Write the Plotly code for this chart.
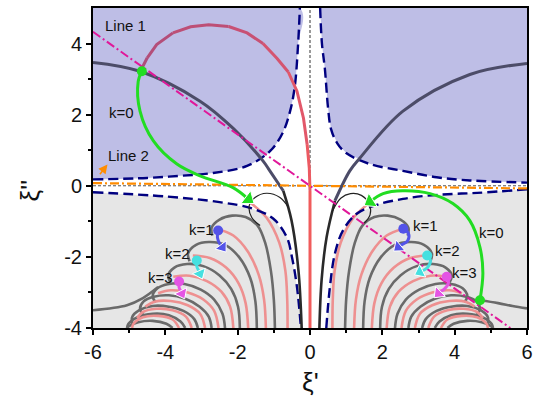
import plotly.graph_objects as go

# ---------------- data ----------------
UL_DASH = [(-6, 0.18), (-4.5, 0.22), (-3.6, 0.28), (-2.68, 0.36), (-1.74, 0.56), (-1.1, 0.98),
           (-0.75, 1.5), (-0.55, 2.1), (-0.42, 2.8), (-0.33, 3.97), (-0.28, 5)]
UR_DASH = [(0.28, 5), (0.33, 4.0), (0.41, 3.3), (0.5, 2.18), (0.58, 1.6), (0.75, 1.2), (1.0, 0.92),
           (1.66, 0.61), (2.57, 0.42), (3.5, 0.24), (4.42, 0.15), (6, 0.09)]
LL_DASH = [(-6, -0.18), (-4, -0.3), (-2.5, -0.46), (-1.6, -0.64), (-1.02, -0.92), (-0.64, -1.45),
           (-0.5, -2.0), (-0.36, -2.85), (-0.25, -4)]
LR_DASH = [(0.45, -4), (0.55, -2.85), (0.69, -1.9), (0.91, -1.26), (1.3, -0.78), (1.9, -0.52),
           (2.57, -0.37), (3.23, -0.28), (3.95, -0.23), (4.62, -0.2), (6, -0.1)]

LINE1 = [(-6, 4.33), (5.54, -4)]
LINE2 = [(-6, 0.075), (6, -0.075)]

SLATE_L = [(-6, 3.47), (-4.7, 3.22), (-3.04, 2.38), (-2.13, 1.62), (-1.3, 0.7), (-1.11, 0.42), (-0.74, -0.14)]
DARK_L = [(-0.74, -0.14), (-0.51, -0.98), (-0.32, -2.38), (-0.23, -4)]
SLATE_R = [(6, 3.44), (4.42, 3.13), (2.57, 2.1), (1.38, 0.78), (1.1, 0.42), (0.69, -0.42)]
DARK_R = [(0.69, -0.42), (0.46, -1.44), (0.32, -2.66), (0.26, -4)]

LOOP_L = [(-0.6, -0.6), (-0.83, -0.33), (-1.2, -0.21), (-1.52, -0.33), (-1.68, -0.56), (-1.61, -0.89), (-1.38, -1.12)]
LOOP_R = [(0.6, -0.75), (0.85, -0.35), (1.12, -0.22), (1.42, -0.27), (1.64, -0.52), (1.66, -0.82), (1.5, -1.05)]

RED_LOOP = [(0, -4), (0, -2), (0, -0.14), (-0.02, 0.5), (-0.08, 1.17), (-0.18, 1.9), (-0.36, 2.66),
            (-0.6, 3.2), (-0.91, 3.58), (-1.3, 4.0), (-1.74, 4.3), (-2.25, 4.48), (-2.8, 4.53),
            (-3.3, 4.47), (-3.79, 4.3), (-4.24, 3.97), (-4.5, 3.6), (-4.62, 3.36), (-4.65, 3.22)]
RED_COLORS = ["#f05c5c", "#ec5a62", "#e2586a", "#d45470", "#c85174", "#bd4f76", "#b44e79", "#ae4e7b"]

GREEN_L = [(-4.65, 3.22), (-4.75, 2.94), (-4.7, 2.1), (-4.33, 1.26), (-3.68, 0.61), (-3.04, 0.28),
           (-2.13, -0.05), (-1.7, -0.38)]
GREEN_R = [(4.7, -3.22), (4.78, -2.46), (4.7, -1.73), (4.42, -0.98), (3.95, -0.5), (3.32, -0.22),
           (2.57, -0.14), (2.02, -0.22), (1.66, -0.45)]

# right fan (left fan is its mirror image)
PINK_ARCS = [
    [(0.62, -4), (0.63, -3.2), (0.68, -2.4), (0.85, -1.6), (1.2, -0.9), (1.72, -0.42)],
    [(1.22, -4), (1.27, -3.2), (1.42, -2.5), (1.72, -1.85), (2.12, -1.4), (2.58, -1.21)],
    [(1.71, -4), (1.78, -3.3), (1.97, -2.75), (2.32, -2.3), (2.77, -2.03), (3.24, -1.96)],
    [(2.12, -4), (2.21, -3.4), (2.45, -2.98), (2.85, -2.68), (3.33, -2.53), (3.78, -2.56)],
    [(2.53, -4), (2.65, -3.52), (2.95, -3.2), (3.38, -3.0), (3.85, -2.94), (4.2, -3.02)],
    [(2.9, -4), (3.04, -3.6), (3.38, -3.36), (3.85, -3.24), (4.3, -3.26), (4.55, -3.4)],
    [(3.27, -4), (3.43, -3.68), (3.8, -3.5), (4.25, -3.46), (4.62, -3.55), (4.78, -3.72)],
    [(3.62, -4), (3.8, -3.76), (4.2, -3.66), (4.62, -3.7), (4.88, -3.88), (4.92, -4)],
]
GRAY_ARCS = [
    [(0.97, -4), (1.0, -3.2), (1.08, -2.4), (1.24, -1.6), (1.45, -1.12), (1.78, -0.88), (2.15, -0.84),
     (2.5, -0.95), (2.72, -1.18), (2.7, -1.4)],
    [(1.47, -4), (1.51, -3.25), (1.65, -2.6), (1.95, -2.02), (2.35, -1.66), (2.8, -1.58), (3.15, -1.66),
     (3.37, -1.9), (3.33, -2.12)],
    [(1.94, -4), (1.99, -3.4), (2.18, -2.9), (2.5, -2.52), (2.95, -2.26), (3.4, -2.2), (3.75, -2.3),
     (3.92, -2.52), (3.86, -2.72)],
    [(2.35, -4), (2.42, -3.6), (2.65, -3.2), (3.02, -2.92), (3.47, -2.76), (3.9, -2.76), (4.22, -2.88),
     (4.35, -3.1), (4.27, -3.28)],
    [(2.72, -4), (2.8, -3.68), (3.05, -3.4), (3.45, -3.18), (3.9, -3.08), (4.32, -3.12), (4.6, -3.25),
     (4.7, -3.46), (4.62, -3.62)],
    [(3.1, -4), (3.2, -3.75), (3.5, -3.52), (3.9, -3.4), (4.35, -3.38), (4.72, -3.5), (4.92, -3.7),
     (4.9, -3.9)],
    [(3.45, -4), (3.58, -3.82), (3.9, -3.64), (4.35, -3.6), (4.78, -3.7), (5.02, -3.88), (5.06, -4)],
    [(3.8, -4), (3.97, -3.88), (4.35, -3.8), (4.75, -3.84), (5.02, -3.96), (5.05, -4)],
]
EDGE_R = [(4.7, -3.22), (5.2, -3.3), (5.6, -3.38), (6, -3.45)]
EDGE_L = [(-6, -3.5), (-5.06, -3.36), (-4.62, -3.16), (-4.2, -2.85)]

K_ARROWS = [  # (colour, path from dot to triangle)
    ("#5353e8", [(2.58, -1.21), (2.72, -1.33), (2.7, -1.55), (2.5, -1.68), (2.44, -1.73)]),
    ("#45e0e0", [(3.24, -1.96), (3.33, -2.1), (3.25, -2.3), (3.1, -2.4), (3.04, -2.43)]),
    ("#e455e4", [(3.78, -2.56), (3.83, -2.72), (3.72, -2.9), (3.6, -2.98), (3.55, -3.03)]),
    ("#5353e8", [(-2.54, -1.26), (-2.56, -1.45), (-2.5, -1.62), (-2.42, -1.73)]),
    ("#45e0e0", [(-3.13, -2.1), (-3.13, -2.27), (-3.07, -2.4), (-3.04, -2.47)]),
    ("#e455e4", [(-3.62, -2.69), (-3.62, -2.86), (-3.57, -2.97), (-3.54, -3.03)]),
]

LABELS = [("Line 1", -5.1, 4.52), ("Line 2", -5.03, 0.84), ("k=0", -5.2, 2.05), ("k=0", 5.03, -1.3),
          ("k=1", 3.18, -1.12), ("k=2", 3.79, -1.82), ("k=3", 4.28, -2.43),
          ("k=1", -3.01, -1.24), ("k=2", -3.65, -1.9), ("k=3", -4.12, -2.58)]

X_TICKS = [-6, -4, -2, 0, 2, 4, 6]
Y_TICKS = [-4, -2, 0, 2, 4]

# ---------------- figure ----------------
fig = go.Figure()

def xs(pts):
    return [p[0] for p in pts]

def ys(pts):
    return [p[1] for p in pts]

def mirror(pts):
    return [(-p[0], p[1]) for p in pts]

LAV = "#bebee6"
GRY = "#e6e6e6"
fig.add_trace(go.Scatter(x=xs(UL_DASH) + [-6], y=ys(UL_DASH) + [5], fill="toself", fillcolor=LAV,
                         mode="none", hoverinfo="skip", line_shape="spline"))
fig.add_trace(go.Scatter(x=xs(UR_DASH) + [6], y=ys(UR_DASH) + [5], fill="toself", fillcolor=LAV,
                         mode="none", hoverinfo="skip"))
fig.add_trace(go.Scatter(x=xs(LL_DASH) + [-6], y=ys(LL_DASH) + [-4], fill="toself", fillcolor=GRY,
                         mode="none", hoverinfo="skip"))
fig.add_trace(go.Scatter(x=xs(LR_DASH) + [6], y=ys(LR_DASH) + [-4], fill="toself", fillcolor=GRY,
                         mode="none", hoverinfo="skip"))

def line(pts, color, width, dash="solid", shape="spline"):
    fig.add_trace(go.Scatter(x=xs(pts), y=ys(pts), mode="lines",
                             line=dict(color=color, width=width, dash=dash, shape=shape,
                                       smoothing=1.0 if shape == "spline" else None),
                             hoverinfo="skip"))

# fans
PINK = "#ee9090"
FANGRAY = "#6a6a6a"
for side in (lambda p: p, mirror):
    for arc in GRAY_ARCS:
        line(side(arc), FANGRAY, 2.6)
    for arc in PINK_ARCS:
        line(side(arc), PINK, 2.6)
line(EDGE_R, FANGRAY, 2.6)
line(EDGE_L, FANGRAY, 2.6)

# axes helper lines
line([(0, -4), (0, 5)], "#333333", 1, dash="3px,2px", shape="linear")
line([(-6, 0), (6, 0)], "#555555", 1, dash="3px,2px", shape="linear")

# dashed boundaries
for d in (UL_DASH, UR_DASH, LL_DASH, LR_DASH):
    line(d, "#000080", 2.4, dash="10px,5px")

# slate / dark curves
line(SLATE_L, "#4c4c68", 3)
line(DARK_L, "#2a2a2a", 2.6)
line(SLATE_R, "#4c4c68", 3)
line(DARK_R, "#2a2a2a", 2.6)
line(LOOP_L, "#222222", 1.2)
line(LOOP_R, "#222222", 1.2)

# red loop, coloured in pieces (consecutive chunks share their end points)
n = len(RED_COLORS)
step = (len(RED_LOOP) - 1) / n
for i, col in enumerate(RED_COLORS):
    a = int(round(i * step))
    b = int(round((i + 1) * step))
    line(RED_LOOP[a:b + 1], col, 3, shape="linear")

# reference lines
line(LINE1, "#e0189a", 2, dash="9px,3px,2px,3px", shape="linear")
line(LINE2, "#ff8c00", 2.2, dash="9px,3px,2px,3px", shape="linear")

# green k=0 paths
for g in (GREEN_L, GREEN_R):
    line(g, "#22dd22", 3)
    fig.add_trace(go.Scatter(x=[g[0][0]], y=[g[0][1]], mode="markers",
                             marker=dict(color="#22dd22", size=10), hoverinfo="skip"))
    fig.add_trace(go.Scatter(x=xs(g[-2:]), y=ys(g[-2:]), mode="markers",
                             marker=dict(color="#22dd22", size=[0, 14], symbol="triangle-up",
                                         angleref="previous", opacity=[0, 1]), hoverinfo="skip"))

# k arrows
for col, path in K_ARROWS:
    line(path, col, 3)
    fig.add_trace(go.Scatter(x=[path[0][0]], y=[path[0][1]], mode="markers",
                             marker=dict(color=col, size=10), hoverinfo="skip"))
    fig.add_trace(go.Scatter(x=xs(path[-2:]), y=ys(path[-2:]), mode="markers",
                             marker=dict(color=col, size=[0, 12], symbol="triangle-up",
                                         angleref="previous", opacity=[0, 1]), hoverinfo="skip"))

FONT = "Liberation Sans, Arial, sans-serif"
for t, x, y in LABELS:
    fig.add_annotation(x=x, y=y, text=t, showarrow=False, font=dict(family=FONT, size=15, color="#111"))

# orange arrow for Line 2
fig.add_annotation(x=-5.6, y=0.6, ax=-5.84, ay=0.28, xref="x", yref="y", axref="x", ayref="y",
                   text="", showarrow=True, arrowhead=2, arrowsize=1.2, arrowwidth=1.5, arrowcolor="#ff8c00")

# axis titles
fig.add_annotation(x=0.5, y=-0.17, xref="paper", yref="paper", yanchor="middle", text="ξ'",
                   showarrow=False, font=dict(family=FONT, size=26, color="#111"))
fig.add_annotation(x=-0.145, y=0.43, xref="paper", yref="paper", xanchor="center", text="ξ''",
                   showarrow=False, textangle=-90, font=dict(family=FONT, size=26, color="#111"))

axis_common = dict(showgrid=False, zeroline=False, showline=True, mirror=True, linecolor="black",
                   linewidth=2, ticks="outside", ticklen=5, tickwidth=1.5, tickcolor="black",
                   tickfont=dict(family=FONT, size=20, color="#111"),
                   minor=dict(ticks="outside", ticklen=3, tickwidth=1.5, tickcolor="black", dtick=1))
fig.update_xaxes(range=[-6, 6], tickvals=X_TICKS, ticktext=[str(v) for v in X_TICKS], **axis_common)
fig.update_yaxes(range=[-4, 5], tickvals=Y_TICKS, ticktext=[str(v) for v in Y_TICKS], **axis_common)
fig.update_xaxes(minor=dict(tickvals=[-5, -3, -1, 1, 3, 5]))
fig.update_yaxes(minor=dict(tickvals=[-3, -1, 1, 3]))

fig.update_layout(width=541, height=401, margin=dict(l=93, r=14, t=6, b=73),
                  plot_bgcolor="white", paper_bgcolor="white", showlegend=False)

fig.write_html("out.html")
